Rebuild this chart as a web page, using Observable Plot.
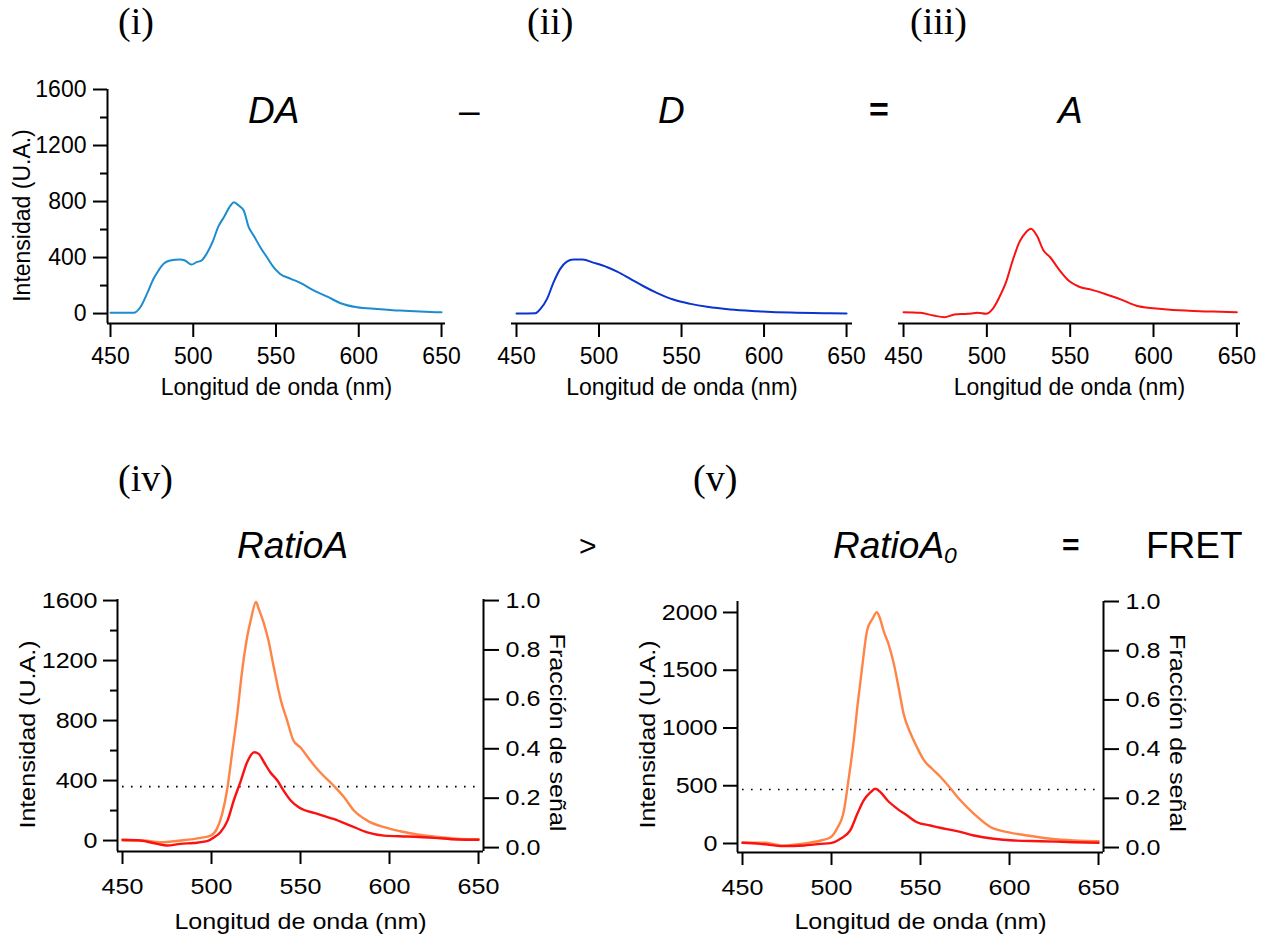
<!DOCTYPE html>
<html>
<head>
<meta charset="utf-8">
<script src="https://cdn.jsdelivr.net/npm/d3@7"></script>
<script src="https://cdn.jsdelivr.net/npm/@observablehq/plot@0.6"></script>
<style>
  body { margin: 0; background: #fff; }
  #root { position: relative; width: 1264px; height: 936px; overflow: hidden; background: #fff;
          font-family: "Liberation Sans", Arial, sans-serif; color: #000; }
  .pane { position: absolute; }
  .lbl { position: absolute; white-space: nowrap; line-height: 1; color: #000; }
</style>
</head>
<body>
<div id="root"></div>
<script>
// ---------------- DATA ----------------
const xTicks = [450, 500, 550, 600, 650];
const intTicksTop = [0, 400, 800, 1200, 1600];
const intMinorTop = [200, 600, 1000, 1400];
const intTicksIV = [0, 400, 800, 1200, 1600];
const intMinorIV = [200, 600, 1000, 1400];
const intTicksV = [0, 500, 1000, 1500, 2000];
const fracTicks = [0, 0.2, 0.4, 0.6, 0.8, 1.0];

const xLabelText = "Longitud de onda (nm)";
const yLabelText = "Intensidad (U.A.)";
const rightLabelText = "Fracción de señal";

// (i) DA spectrum
const daWl  = [450, 464, 468, 472, 476, 479, 482, 486, 492, 495, 499, 502, 505, 508, 512, 515, 518.5, 522.5, 524.5, 527.5, 530.5, 533.5, 536.5, 540.5, 544.5, 548.5, 552.5, 559, 565, 573, 581, 589, 599, 611, 625, 637, 650];
const daInt = [5, 5, 45, 140, 248, 307, 355, 379, 386, 379, 350, 367, 379, 426, 521, 617, 688, 771, 795, 771, 736, 617, 557, 474, 402, 331, 283, 248, 217, 164, 121, 74, 45, 33, 21, 14, 9];

// (ii) D spectrum
const dWl  = [450, 461.5, 464.5, 468.5, 472.5, 476.5, 480.5, 484.5, 490, 497, 505, 511, 519, 527, 535, 545, 555.5, 565.5, 579.5, 596, 616, 636, 650];
const dInt = [0, 2, 33, 105, 224, 319, 371, 386, 386, 362, 331, 300, 248, 195, 148, 100, 69, 48, 29, 17, 7, 2, 0];

// (iii) A spectrum
const aWl  = [450, 460, 468, 474.5, 480.5, 488.5, 494.5, 499.5, 503.5, 507.5, 511.5, 515.5, 519.5, 523.5, 526.5, 530, 534, 538, 543, 549, 555, 563, 571, 581, 591, 605, 619, 635.5, 650];
const aInt = [9, 5, -14, -26, -7, -2, 5, -2, 33, 117, 224, 379, 510, 581, 605, 557, 450, 402, 319, 236, 193, 169, 140, 98, 52, 33, 21, 14, 9];

// (iv) RatioA: orange and red
const ivOrWl  = [450, 462, 471, 482.5, 494, 499.5, 503, 506, 509, 511.5, 514.5, 517, 520, 522, 525, 526.5, 529.5, 532, 535, 539, 542.5, 546, 550, 555.5, 561, 568.5, 574.5, 580, 587.5, 597, 606, 615.5, 628.5, 640, 650];
const ivOrInt = [0, 0, -11, 0, 18, 33, 78, 178, 355, 578, 845, 1111, 1355, 1467, 1590, 1545, 1445, 1333, 1155, 933, 800, 667, 620, 533, 455, 367, 289, 200, 133, 89, 62, 40, 22, 11, 9];
const ivRdWl  = [450, 460, 469.5, 475, 482.5, 490, 497.5, 501.5, 505, 509, 512.5, 516.5, 520, 524, 526.5, 529.5, 533, 537, 540.5, 544.5, 549, 559.5, 568.5, 578, 587.5, 597, 610, 625, 638, 650];
const ivRdInt = [5, 0, -22, -33, -22, -16, -4, 22, 56, 133, 267, 400, 522, 589, 578, 522, 455, 400, 333, 267, 222, 178, 144, 100, 55, 33, 27, 18, 7, 5];
const ivThresholdFrac = 0.247;

// (v) RatioA0: orange and red
const vOrWl  = [450, 462, 473, 484.5, 494, 499.5, 503, 507, 509.5, 512.5, 514.5, 517, 520, 523, 525.5, 527, 529.5, 532, 535, 538, 540.5, 544.5, 548, 552, 556.5, 561, 567, 572.5, 580, 589.5, 599, 610, 623, 636, 650];
const vOrInt = [6, 6, -17, 0, 26, 55, 127, 286, 545, 892, 1180, 1498, 1844, 1945, 2003, 1959, 1829, 1729, 1556, 1325, 1123, 950, 834, 719, 647, 580, 474, 372, 257, 141, 98, 69, 41, 26, 20];
const vRdWl  = [450, 460, 473, 484.5, 494, 499.5, 505, 510.5, 514.5, 518, 522, 524.5, 527.5, 531.5, 537, 542.5, 548, 555.5, 561, 570.5, 580, 591, 602.5, 617.5, 636, 650];
const vRdInt = [6, -3, -23, -17, -3, 3, 41, 113, 257, 372, 444, 474, 444, 372, 300, 242, 184, 156, 136, 107, 69, 41, 26, 20, 11, 6];
const vThresholdFrac = 0.236;

// ---------------- helpers ----------------
const zip = (w, v) => w.map((d, i) => ({wl: d, v: v[i]}));
const root = document.getElementById("root");
const FONT = '"Liberation Sans", Arial, sans-serif';
const C_DA = "#1a8ccf", C_D = "#0a34d0", C_RED = "#fa1212", C_OR = "#ff8446";

function place(el, left, top) {
  const w = document.createElement("div");
  w.className = "pane";
  w.style.left = left + "px";
  w.style.top = top + "px";
  w.appendChild(el);
  root.appendChild(w);
}
function stretchText(svg, k) {
  svg.querySelectorAll("text").forEach(t => {
    const tr = t.getAttribute("transform");
    if (tr) t.setAttribute("transform", tr + ` scale(${k},1)`);
    else {
      const x = +t.getAttribute("x") || 0;
      t.setAttribute("x", 0);
      t.setAttribute("transform", `translate(${x},0) scale(${k},1)`);
    }
  });
}
function label(html, left, baseline, size, opts = {}) {
  const d = document.createElement("div");
  d.className = "lbl";
  const serif = opts.serif;
  d.style.fontFamily = serif ? '"Liberation Serif", "Times New Roman", serif' : FONT;
  d.style.fontSize = size + "px";
  if (opts.italic) d.style.fontStyle = "italic";
  if (opts.bold) d.style.fontWeight = "bold";
  d.style.left = left + "px";
  d.style.top = (baseline - (serif ? 0.8375 : 0.8465) * size) + "px";
  d.innerHTML = html;
  root.appendChild(d);
}
const baseStyle = {fontFamily: FONT, color: "#000", background: "transparent", overflow: "visible"};

// ---------------- top row ----------------
const topYDomain = [-71, 1600];
function topPanel({left, width, mL, mR, xDomain, data, color, withY}) {
  const marks = [
    Plot.ruleY([topYDomain[0]], {stroke: "#000", strokeWidth: 2}),
    Plot.axisX(xTicks, {tickSize: 14, tickPadding: 10, fontSize: 23, strokeWidth: 2, label: null, tickFormat: d => String(d)}),
    Plot.line(data, {x: "wl", y: "v", stroke: color, strokeWidth: 2, curve: "monotone-x"}),
    Plot.text([xLabelText], {frameAnchor: "bottom", textAnchor: "middle", lineAnchor: "middle", dy: 64, fontSize: 23, text: d => d})
  ];
  if (withY) {
    marks.push(
      Plot.ruleX([xDomain[0]], {stroke: "#000", strokeWidth: 2}),
      Plot.axisY(intTicksTop, {tickSize: 14, tickPadding: 7, fontSize: 23, strokeWidth: 2, label: null, tickFormat: d => String(d)}),
      Plot.axisY(intMinorTop, {tickSize: 7, strokeWidth: 2, label: null, tickFormat: () => ""}),
      Plot.text([yLabelText], {frameAnchor: "left", textAnchor: "middle", lineAnchor: "middle", rotate: -90, dx: -84.5, dy: 9, fontSize: 23, text: d => d})
    );
  }
  const p = Plot.plot({
    width, height: 350, marginLeft: mL, marginRight: mR, marginTop: 29, marginBottom: 87,
    x: {domain: xDomain},
    y: {domain: topYDomain, axis: withY ? undefined : null},
    style: baseStyle,
    marks
  });
  place(p, left, 60);
}
topPanel({left: 0, width: 470, mL: 107, mR: 25, xDomain: [448.19, 652.4], data: zip(daWl, daInt), color: C_DA, withY: true});
topPanel({left: 470, width: 400, mL: 41, mR: 18, xDomain: [446.97, 653.6], data: zip(dWl, dInt), color: C_D, withY: false});
topPanel({left: 870, width: 394, mL: 28, mR: 24, xDomain: [446.98, 652.2], data: zip(aWl, aInt), color: C_RED, withY: false});

// ---------------- bottom row ----------------
function bottomPanel({left, width, mL, mR, mT, mB, yDomain, yTicks, yMinor, off, span, orange, red, thr, lblDy, yDy, rDy}) {
  const xDomain = [447.19, 652.8];
  const rightVals = fracTicks.map(f => off + span * f);
  const marks = [
    Plot.ruleY([yDomain[0]], {stroke: "#000", strokeWidth: 2}),
    Plot.ruleX([xDomain[0]], {stroke: "#000", strokeWidth: 2}),
    Plot.ruleX([xDomain[1]], {stroke: "#000", strokeWidth: 2}),
    Plot.axisX(xTicks, {tickSize: 13, tickPadding: 14, fontSize: 22, strokeWidth: 2, label: null, tickFormat: d => String(d)}),
    Plot.axisY(yTicks, {tickSize: 14, tickPadding: 6, fontSize: 22, strokeWidth: 2, label: null, tickFormat: d => String(d)}),
    Plot.axisY(rightVals, {anchor: "right", tickSize: 15, tickPadding: 7, fontSize: 22, strokeWidth: 2, label: null,
      tickFormat: d => ((d - off) / span).toFixed(1)}),
    Plot.ruleY([off + span * thr], {x1: 450, x2: 650, stroke: "#000", strokeWidth: 1.6, strokeDasharray: "1.6 7.4"}),
    Plot.line(orange, {x: "wl", y: "v", stroke: C_OR, strokeWidth: 2.4, curve: "monotone-x"}),
    Plot.line(red, {x: "wl", y: "v", stroke: C_RED, strokeWidth: 2.4, curve: "monotone-x"}),
    Plot.text([xLabelText], {frameAnchor: "bottom", textAnchor: "middle", lineAnchor: "middle", dy: lblDy, fontSize: 22, text: d => d}),
    Plot.text([yLabelText], {frameAnchor: "left", textAnchor: "middle", lineAnchor: "middle", rotate: -90, dx: -90, dy: yDy, fontSize: 22, text: d => d}),
    Plot.text([rightLabelText], {frameAnchor: "right", textAnchor: "middle", lineAnchor: "middle", rotate: 90, dx: 74, dy: rDy, fontSize: 22, text: d => d})
  ];
  if (yMinor) marks.push(Plot.axisY(yMinor, {tickSize: 7, strokeWidth: 2, label: null, tickFormat: () => ""}));
  const p = Plot.plot({
    width, height: 936 - 560, marginLeft: mL, marginRight: mR, marginTop: mT, marginBottom: mB,
    x: {domain: xDomain},
    y: {domain: yDomain},
    style: baseStyle,
    marks
  });
  stretchText(p, 1.14);
  place(p, left, 560);
}
bottomPanel({left: 0, width: 620, mL: 117, mR: 137, mT: 39, mB: 85, yDomain: [-73, 1607],
  yTicks: intTicksIV, yMinor: intMinorIV, off: -47, span: 1647,
  orange: zip(ivOrWl, ivOrInt), red: zip(ivRdWl, ivRdInt), thr: ivThresholdFrac, lblDy: 70, yDy: 9, rDy: 7});
bottomPanel({left: 620, width: 644, mL: 117, mR: 161, mT: 41, mB: 84, yDomain: [-78, 2095],
  yTicks: intTicksV, yMinor: null, off: -35, span: 2130,
  orange: zip(vOrWl, vOrInt), red: zip(vRdWl, vRdInt), thr: vThresholdFrac, lblDy: 69, yDy: 7.5, rDy: 6});

// ---------------- titles / operators / panel numbers ----------------
label("(i)", 118, 34, 38, {serif: true});
label("(ii)", 527, 34, 38, {serif: true});
label("(iii)", 910, 34, 38, {serif: true});
label("(iv)", 118, 491, 38, {serif: true});
label("(v)", 693, 491, 38, {serif: true});

label("DA", 248, 123, 37, {italic: true});
label("–", 459, 123, 37);
label("D", 658, 123, 37, {italic: true});
label("=", 869, 121, 34, {bold: true});
label("A", 1058, 123, 37, {italic: true});

label("RatioA", 237, 558, 37, {italic: true});
label("&gt;", 579, 556, 30);
label('RatioA<span style="font-size:0.62em;position:relative;top:0.25em">0</span>', 833, 558, 37, {italic: true});
label("=", 1062, 555, 30, {bold: true});
label("FRET", 1146, 558, 37);
</script>
</body>
</html>
